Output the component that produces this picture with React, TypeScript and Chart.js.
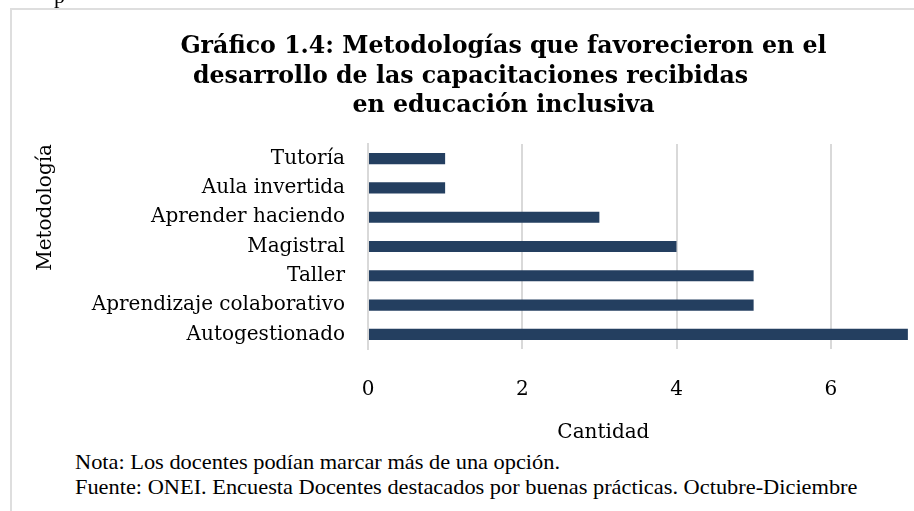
import React, { useEffect, useRef } from 'react';
import { Chart, registerables } from 'chart.js';

Chart.register(...registerables);

const categories = [
  'Tutoría',
  'Aula invertida',
  'Aprender haciendo',
  'Magistral',
  'Taller',
  'Aprendizaje colaborativo',
  'Autogestionado',
];
const cantidad = [1, 1, 3, 4, 5, 5, 7];
const xMin = 0;
const xMax = 8;
const xStep = 2;
const titleLines = [
  'Gráfico 1.4: Metodologías que favorecieron en el',
  'desarrollo de las capacitaciones recibidas' + ' '.repeat(8),
  'en educación inclusiva',
];
const xAxisTitle = 'Cantidad' + ' '.repeat(23);
const yAxisTitle = 'Metodología';
const notes = [
  'Nota: Los docentes podían marcar más de una opción.',
  'Fuente: ONEI. Encuesta Docentes destacados por buenas prácticas. Octubre-Diciembre',
];

const SERIF = "'DejaVu Serif', serif";
const BAR = '#243f60';
const GRID = '#d9d9d9';
const CANVAS_W = 963;
const CANVAS_H = 435;

export default function App() {
  const ref = useRef<HTMLCanvasElement | null>(null);

  useEffect(() => {
    if (!ref.current) return;
    const chart = new Chart(ref.current, {
      type: 'bar',
      data: {
        labels: categories,
        datasets: [
          {
            label: 'Cantidad',
            data: cantidad,
            backgroundColor: BAR,
            borderWidth: 0,
            barPercentage: 0.38,
            categoryPercentage: 1,
          },
        ],
      },
      options: {
        indexAxis: 'y',
        animation: false,
        responsive: false,
        layout: { padding: 0 },
        plugins: {
          legend: { display: false },
          tooltip: { enabled: false },
          title: {
            display: true,
            text: titleLines,
            color: '#000',
            font: { family: SERIF, size: 23.7, weight: 'bold', lineHeight: '29.5px' },
            padding: { top: 22.5, bottom: 23 },
          },
        },
        scales: {
          x: {
            min: xMin,
            max: xMax,
            ticks: {
              stepSize: xStep,
              padding: 29,
              color: '#000',
              font: { family: SERIF, size: 20 },
            },
            grid: { color: GRID, lineWidth: 2, drawTicks: false },
            border: { display: false },
            title: {
              display: true,
              text: xAxisTitle,
              color: '#000',
              font: { family: SERIF, size: 20 },
              padding: { top: 20, bottom: 0 },
            },
            afterFit: (s: any) => {
              s.height = 96;
              s.paddingLeft = 0;
              s.paddingRight = 0;
            },
          },
          y: {
            ticks: {
              autoSkip: false,
              padding: 23,
              color: '#000',
              font: { family: SERIF, size: 20 },
            },
            grid: { display: false, drawTicks: false },
            border: { display: true, color: GRID, width: 2 },
            title: {
              display: true,
              text: yAxisTitle,
              align: 'end',
              color: '#000',
              font: { family: SERIF, size: 20 },
              padding: { top: 12, bottom: 0 },
            },
            afterFit: (s: any) => {
              s.width = 346;
              s.paddingTop = 0;
              s.paddingBottom = 0;
            },
          },
        },
      },
    } as any);
    return () => chart.destroy();
  }, []);

  return (
    <div
      style={{
        position: 'fixed',
        left: 10,
        top: 8,
        width: 902,
        height: 501,
        borderLeft: '2px solid #dedede',
        borderTop: '2px solid #dedede',
        background: '#fff',
      }}
    >
      <div
        style={{
          position: 'absolute',
          left: 42,
          top: -25,
          fontFamily: "'Liberation Serif', serif",
          fontSize: 22,
          lineHeight: '22px',
          color: '#000',
        }}
      >
        p
      </div>
      <div style={{ position: 'absolute', inset: 0, overflow: 'hidden' }}>
        <canvas
          ref={ref}
          width={CANVAS_W}
          height={CANVAS_H}
          style={{ position: 'absolute', left: 10, top: 0, width: CANVAS_W, height: CANVAS_H }}
        />
        <div
          style={{
            position: 'absolute',
            left: 63,
            top: 440,
            fontFamily: "'Liberation Serif', serif",
            fontSize: 21,
            lineHeight: '25px',
            color: '#000',
            whiteSpace: 'nowrap',
            transform: 'scaleX(1.065)',
            transformOrigin: 'left top',
          }}
        >
          {notes.map((n) => (
            <div key={n}>{n}</div>
          ))}
        </div>
      </div>
    </div>
  );
}
